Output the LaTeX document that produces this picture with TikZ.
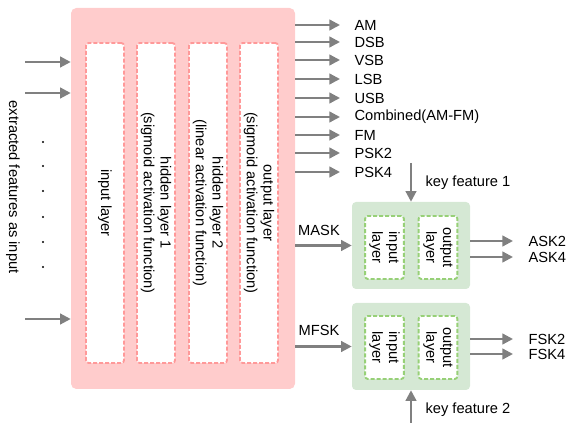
\documentclass[tikz,border=0pt]{standalone}
\usepackage{fontspec}
\setmainfont{Liberation Sans}
\usetikzlibrary{arrows.meta}

\definecolor{netfill}{HTML}{FFCCCC}
\definecolor{netline}{HTML}{FF9999}
\definecolor{subfill}{HTML}{D5E8D4}
\definecolor{subline}{HTML}{97D077}
\definecolor{arrgray}{HTML}{808080}

\tikzset{
    txt/.style={font=\fontsize{11}{12.5}\selectfont, inner sep=1pt},
    arr/.style={draw=arrgray, line width=1.7pt, -{Triangle[length=8pt, width=8pt]}},
    netbox/.style={fill=netfill, rounded corners=4pt, minimum width=168pt, minimum height=285.75pt},
    layerbox/.style={fill=white, draw=netline, dash pattern=on 3pt off 1.5pt, line width=1.4pt, rounded corners=2pt,
        minimum width=28.5pt, minimum height=240pt, inner sep=0pt},
    subbox/.style={fill=subfill, rounded corners=3pt, minimum width=88.5pt, minimum height=65.25pt},
    sublayer/.style={fill=white, draw=subline, dash pattern=on 3pt off 1.5pt, line width=1.4pt, rounded corners=2pt,
        minimum width=29pt, minimum height=47.25pt, inner sep=0pt}
}

\begin{document}
\begin{tikzpicture}[x=0.75pt, y=-0.75pt]
                \useasboundingbox (0, 0) rectangle (567, 423);

                \node[netbox] (net) at (183, 198.5) {};
                \node[layerbox] (L1) at (105, 203) {};
                \node[layerbox] (L2) at (156, 203) {};
                \node[layerbox] (L3) at (208, 203) {};
                \node[layerbox] (L4) at (259, 203) {};
                \node[txt, rotate=-90, align=center] at (L1) {input layer};
                \node[txt, rotate=-90, align=center] at (L2) {hidden layer 1\\(sigmoid activation function)};
                \node[txt, rotate=-90, align=center] at (L3) {hidden layer 2\\(linear activation function)};
                \node[txt, rotate=-90, align=center] at (L4) {output layer\\(sigmoid activation function)};

                \coordinate (in1) at (25, 62);
                \coordinate (in2) at (25, 93);
                \coordinate (in3) at (25, 319);
                \draw[arr] (in1) -- (net.west |- in1);
                \draw[arr] (in2) -- (net.west |- in2);
                \draw[arr] (in3) -- (net.west |- in3);
                \foreach \y in {142, 166, 191, 217, 242, 267}
                    \fill (43, \y) circle (0.9pt);
                \node[txt, rotate=-90] (feat) at (13, 187) {extracted features as input};

                \node[txt, anchor=west] (am) at (353, 25) {AM};
                \node[txt, anchor=west] (dsb) at (353, 42) {DSB};
                \node[txt, anchor=west] (vsb) at (353, 60) {VSB};
                \node[txt, anchor=west] (lsb) at (353, 79) {LSB};
                \node[txt, anchor=west] (usb) at (353, 98) {USB};
                \node[txt, anchor=west] (comb) at (353, 117) {Combined(AM-FM)};
                \node[txt, anchor=west] (fm) at (353, 135) {FM};
                \node[txt, anchor=west] (psk2) at (353, 153) {PSK2};
                \node[txt, anchor=west] (psk4) at (353, 172) {PSK4};

                \draw[arr, shorten >=9.75pt] (net.east |- am) -- (am.west);
                \draw[arr, shorten >=9.75pt] (net.east |- dsb) -- (dsb.west);
                \draw[arr, shorten >=9.75pt] (net.east |- vsb) -- (vsb.west);
                \draw[arr, shorten >=9.75pt] (net.east |- lsb) -- (lsb.west);
                \draw[arr, shorten >=9.75pt] (net.east |- usb) -- (usb.west);
                \draw[arr, shorten >=9.75pt] (net.east |- comb) -- (comb.west);
                \draw[arr, shorten >=9.75pt] (net.east |- fm) -- (fm.west);
                \draw[arr, shorten >=9.75pt] (net.east |- psk2) -- (psk2.west);
                \draw[arr, shorten >=9.75pt] (net.east |- psk4) -- (psk4.west);

                \node[subbox] (G1) at (411, 245.5) {};
                \node[sublayer] (G1in) at (384.5, 247.5) {};
                \node[sublayer] (G1out) at (438, 247.5) {};
                \node[txt, rotate=-90, align=center] at (G1in) {input\\layer};
                \node[txt, rotate=-90, align=center] at (G1out) {output\\layer};

                \node[subbox] (G2) at (411, 346.5) {};
                \node[sublayer] (G2in) at (384.5, 347.5) {};
                \node[sublayer] (G2out) at (438, 347.5) {};
                \node[txt, rotate=-90, align=center] at (G2in) {input\\layer};
                \node[txt, rotate=-90, align=center] at (G2out) {output\\layer};

                \node[txt] (mask) at (319, 230) {MASK};
                \node[txt] (mfsk) at (319, 330) {MFSK};
                \draw[arr] (net.east |- G1.west) -- (G1.west);
                \draw[arr] (net.east |- G2.west) -- (G2.west);

                \coordinate (kf1) at (411, 163);
                \coordinate (kf2) at (411, 423);
                \draw[arr] (kf1) -- (G1.north);
                \draw[arr] (kf2) -- (G2.south);
                \node[txt, anchor=west] (key1) at (424, 183) {key feature 1};
                \node[txt, anchor=west] (key2) at (424, 410) {key feature 2};

                \node[txt, anchor=west] (ask2) at (527, 241) {ASK2};
                \node[txt, anchor=west] (ask4) at (527, 257) {ASK4};
                \node[txt, anchor=west] (fsk2) at (527, 339) {FSK2};
                \node[txt, anchor=west] (fsk4) at (527, 354) {FSK4};
                \draw[arr, shorten >=10.5pt] (G1.east |- ask2) -- (ask2.west);
                \draw[arr, shorten >=10.5pt] (G1.east |- ask4) -- (ask4.west);
                \draw[arr, shorten >=10.5pt] (G2.east |- fsk2) -- (fsk2.west);
                \draw[arr, shorten >=10.5pt] (G2.east |- fsk4) -- (fsk4.west);
            \end{tikzpicture}
\end{document}
